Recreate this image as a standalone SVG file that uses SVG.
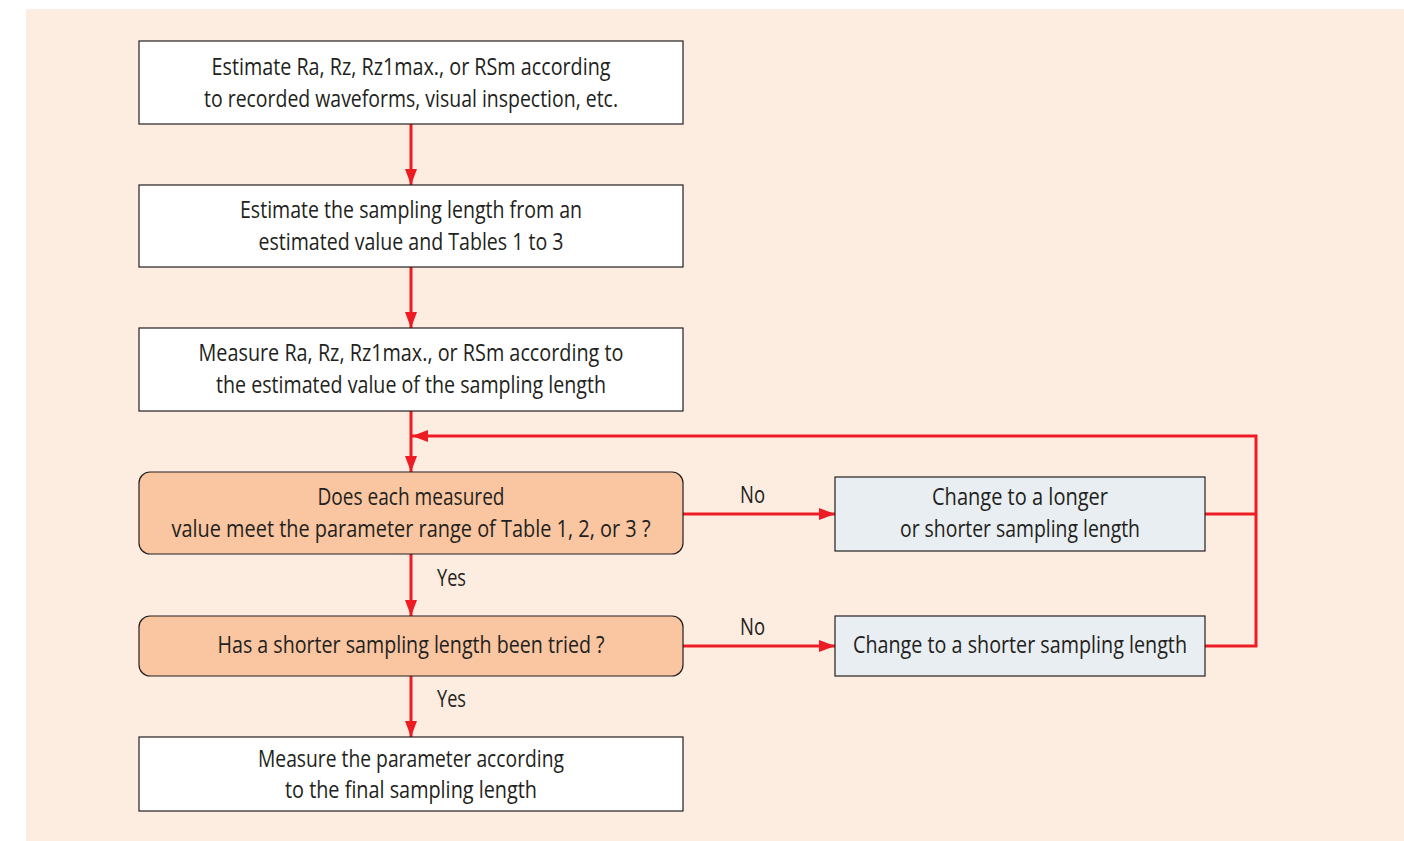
<svg xmlns="http://www.w3.org/2000/svg" width="1404" height="841" viewBox="0 0 1404 841">
<defs>
<marker id="ah" viewBox="0 0 16 12" refX="16" refY="6" markerWidth="16" markerHeight="12" markerUnits="userSpaceOnUse" orient="auto">
<path d="M0,0 L16,6 L0,12 Z" fill="#ed1c24"/>
</marker>
<style>
.box{fill:#ffffff;stroke:#231f20;stroke-width:1.2}
.dec{fill:#f9c6a1;stroke:#231f20;stroke-width:1.2}
.alt{fill:#e9eef2;stroke:#231f20;stroke-width:1.2}
.t{font-family:"Open Sans","Liberation Sans",sans-serif;font-size:23px;fill:#231f20;text-anchor:middle}
.l{font-family:"Open Sans","Liberation Sans",sans-serif;font-size:23px;fill:#231f20}
.c{fill:none;stroke:#ed1c24;stroke-width:3}
</style>
</defs>
<rect x="0" y="0" width="1404" height="841" fill="#ffffff"/>
<rect x="26" y="9" width="1378" height="832" fill="#fdece0"/>
<g id="connectors">
<line class="c" x1="411" y1="124" x2="411" y2="185" marker-end="url(#ah)"/>
<line class="c" x1="411" y1="267" x2="411" y2="328" marker-end="url(#ah)"/>
<line class="c" x1="411" y1="411" x2="411" y2="472" marker-end="url(#ah)"/>
<line class="c" x1="411" y1="554" x2="411" y2="616" marker-end="url(#ah)"/>
<line class="c" x1="411" y1="676" x2="411" y2="737" marker-end="url(#ah)"/>
<line class="c" x1="683" y1="514" x2="835" y2="514" marker-end="url(#ah)"/>
<line class="c" x1="683" y1="646" x2="835" y2="646" marker-end="url(#ah)"/>
<polyline class="c" points="1205,514 1256,514"/>
<polyline class="c" points="1205,646 1256,646 1256,436 412,436" marker-end="url(#ah)"/>
<text class="l" x="740" y="503" textLength="25" lengthAdjust="spacingAndGlyphs">No</text>
<text class="l" x="740" y="635" textLength="25" lengthAdjust="spacingAndGlyphs">No</text>
<text class="l" x="437" y="586" textLength="29" lengthAdjust="spacingAndGlyphs">Yes</text>
<text class="l" x="437" y="707" textLength="29" lengthAdjust="spacingAndGlyphs">Yes</text>
</g>
<g id="n1">
<rect class="box" x="139" y="41" width="544" height="83"/>
<text class="t" x="411" y="75" textLength="399" lengthAdjust="spacingAndGlyphs">Estimate Ra, Rz, Rz1max., or RSm according</text>
<text class="t" x="411" y="107" textLength="414" lengthAdjust="spacingAndGlyphs">to recorded waveforms, visual inspection, etc.</text>
</g>
<g id="n2">
<rect class="box" x="139" y="185" width="544" height="82"/>
<text class="t" x="411" y="218" textLength="342" lengthAdjust="spacingAndGlyphs">Estimate the sampling length from an</text>
<text class="t" x="411" y="250" textLength="305" lengthAdjust="spacingAndGlyphs">estimated value and Tables 1 to 3</text>
</g>
<g id="n3">
<rect class="box" x="139" y="328" width="544" height="83"/>
<text class="t" x="411" y="361" textLength="425" lengthAdjust="spacingAndGlyphs">Measure Ra, Rz, Rz1max., or RSm according to</text>
<text class="t" x="411" y="393" textLength="390" lengthAdjust="spacingAndGlyphs">the estimated value of the sampling length</text>
</g>
<g id="n4">
<rect class="dec" x="139" y="472" width="544" height="82" rx="11"/>
<text class="t" x="411" y="505" textLength="187" lengthAdjust="spacingAndGlyphs">Does each measured</text>
<text class="t" x="411" y="537" textLength="479" lengthAdjust="spacingAndGlyphs">value meet the parameter range of Table 1, 2, or 3 ?</text>
</g>
<g id="n5">
<rect class="dec" x="139" y="616" width="544" height="60" rx="11"/>
<text class="t" x="411" y="653" textLength="387" lengthAdjust="spacingAndGlyphs">Has a shorter sampling length been tried ?</text>
</g>
<g id="n6">
<rect class="box" x="139" y="737" width="544" height="74"/>
<text class="t" x="411" y="767" textLength="306" lengthAdjust="spacingAndGlyphs">Measure the parameter according</text>
<text class="t" x="411" y="798" textLength="252" lengthAdjust="spacingAndGlyphs">to the final sampling length</text>
</g>
<g id="n7">
<rect class="alt" x="835" y="477" width="370" height="74"/>
<text class="t" x="1020" y="505" textLength="176" lengthAdjust="spacingAndGlyphs">Change to a longer</text>
<text class="t" x="1020" y="537" textLength="240" lengthAdjust="spacingAndGlyphs">or shorter sampling length</text>
</g>
<g id="n8">
<rect class="alt" x="835" y="616" width="370" height="60"/>
<text class="t" x="1020" y="653" textLength="334" lengthAdjust="spacingAndGlyphs">Change to a shorter sampling length</text>
</g>
</svg>
